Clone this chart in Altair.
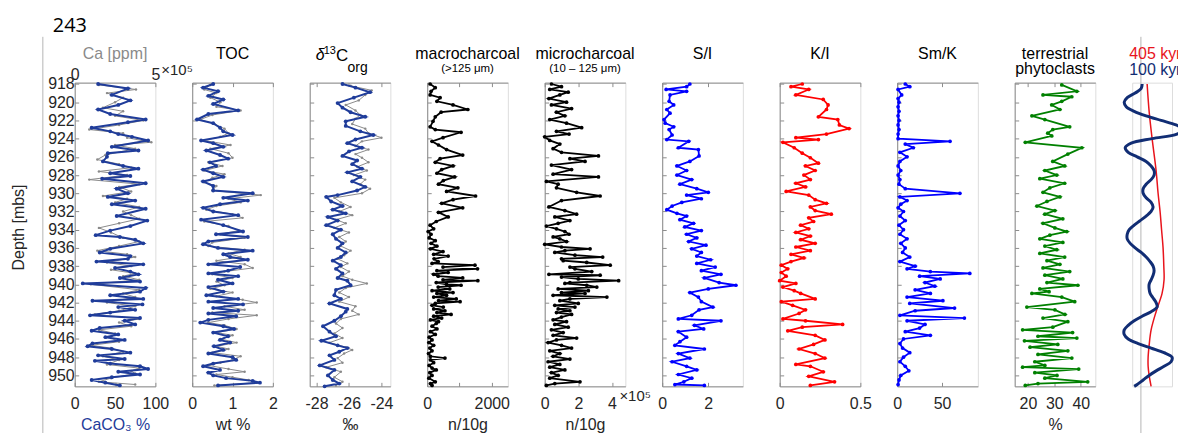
import altair as alt
import pandas as pd

# ---------------- data (depth [mbs], value) ----------------
CACO3 = [(918.0,29),(918.5,66),(919.2,46),(919.8,69),(920.3,54),(920.8,29),(921.3,44),(921.9,88),(922.2,66),(922.8,21),
         (923.2,44),(923.5,54),(923.8,71),(924.2,91),(924.9,46),(925.3,79),(925.6,41),(926.0,40),(926.5,35),(927.0,60),
         (927.3,79),(927.8,44),(928.1,69),(928.4,34),(928.9,88),(929.5,52),(930.0,66),(930.4,41),(930.8,75),(931.2,46),
         (931.7,88),(932.5,52),(933.0,90),(933.6,69),(934.1,44),(934.6,26),(934.8,56),(935.1,75),(935.5,85),(936.1,44),
         (936.5,31),(936.9,69),(937.2,66),(937.5,27),(937.8,85),(938.2,50),(938.6,69),(938.9,79),(939.3,56),(939.7,81),
         (939.9,10),(940.4,88),(940.8,81),(941.2,44),(941.6,85),(941.8,22),(942.2,84),(942.5,54),(942.8,75),(943.1,44),
         (943.4,19),(943.7,81),(944.0,62),(944.4,75),(944.8,31),(945.1,21),(945.5,54),(945.8,38),(946.1,62),(946.5,22),
         (946.8,16),(947.1,46),(947.5,69),(947.8,29),(948.2,62),(948.4,25),(948.7,44),(949.0,81),(949.3,91),(949.6,54),
         (949.9,81),(950.2,46),(950.5,21),(950.8,38),(951.1,56)]
CA_PPM = [(918.1,150000),(918.6,380000),(919.0,200000),(919.5,300000),(920.0,250000),(920.6,175000),(921.0,300000),
          (921.5,250000),(922.0,425000),(922.5,275000),(923.0,90000),(923.4,300000),(923.9,325000),(924.4,475000),
          (924.7,250000),(925.1,375000),(925.8,190000),(926.3,140000),(926.8,275000),(927.2,350000),(927.6,150000),
          (928.0,325000),(928.5,90000),(929.0,400000),(929.3,275000),(929.8,350000),(930.3,175000),(930.6,325000),
          (931.0,250000),(931.5,400000),(932.0,300000),(932.4,350000),(932.8,400000),(933.3,275000),(933.8,150000),
          (934.3,225000),(934.9,300000),(935.3,400000),(935.8,275000),(936.3,140000),(936.7,325000),(937.0,375000),
          (937.6,200000),(938.0,350000),(938.4,225000),(938.8,375000),(939.1,300000),(939.5,400000),(940.0,100000),
          (940.6,400000),(941.0,300000),(941.4,375000),(942.0,200000),(942.4,375000),(942.9,275000),(943.3,125000),
          (943.8,400000),(944.2,275000),(944.6,350000),(945.0,150000),(945.4,250000),(945.9,225000),(946.3,275000),
          (946.7,100000),(947.0,225000),(947.4,300000),(947.9,175000),(948.3,275000),(948.8,200000),(949.2,400000),
          (949.5,350000),(949.8,375000),(950.3,225000),(950.7,150000),(951.0,375000)]
TOC_BLUE = [(918.0,0.52),(918.4,0.27),(918.8,0.64),(919.3,0.40),(919.7,0.77),(920.2,0.52),(920.9,1.14),(921.3,0.40),
            (921.9,0.12),(922.3,0.52),(922.8,0.69),(923.2,0.77),(923.6,1.0),(924.2,0.22),(924.5,0.52),(924.9,0.77),
            (925.3,0.35),(925.8,0.69),(926.2,0.89),(926.6,0.44),(927.0,0.59),(927.4,0.27),(927.8,0.52),(928.2,0.77),
            (928.7,0.27),(929.2,0.52),(929.7,0.52),(930.0,1.5),(930.5,0.77),(930.8,1.38),(931.2,0.69),(931.6,0.27),
            (932.0,0.52),(932.4,1.14),(932.9,0.22),(933.5,0.77),(934.2,1.26),(934.5,0.59),(934.8,1.38),(935.3,0.40),
            (935.6,0.27),(936.0,0.64),(936.3,1.5),(936.7,0.77),(937.0,0.94),(937.3,1.38),(937.8,0.40),(938.1,1.19),
            (938.5,0.89),(938.8,0.40),(939.1,1.14),(939.5,0.64),(939.9,1.0),(940.3,0.40),(940.8,0.77),(941.2,0.35),
            (941.6,1.14),(941.9,0.40),(942.2,1.26),(942.6,0.52),(942.9,1.14),(943.2,0.40),(943.5,1.09),(943.9,0.40),
            (944.2,0.20),(944.6,0.77),(944.9,1.04),(945.3,0.52),(945.7,0.89),(946.1,0.69),(946.4,0.94),(946.8,0.54),
            (947.2,0.77),(947.6,0.40),(948.0,1.0),(948.3,1.09),(948.7,0.52),(949.0,0.27),(949.4,0.69),(949.7,0.40),
            (950.0,0.52),(950.3,0.84),(950.6,1.5),(950.8,1.68),(951.1,0.64)]
TOC_GRAY = [(918.1,0.45),(918.6,0.3),(919.0,0.6),(919.5,0.45),(920.0,0.7),(920.5,0.6),(920.9,1.2),(921.4,0.5),
            (921.9,0.2),(922.4,0.55),(922.9,0.8),(923.4,0.9),(923.8,0.7),(924.2,0.3),(924.7,0.95),(925.1,0.45),
            (925.6,0.9),(926.1,1.0),(926.6,0.4),(927.0,0.75),(927.5,0.3),(927.9,0.8),(928.3,0.5),(928.8,0.3),
            (929.2,0.6),(929.7,0.5),(930.2,1.7),(930.6,0.9),(931.0,1.2),(931.4,0.6),(931.8,0.35),(932.3,1.0),
            (932.7,1.25),(933.1,0.3),(933.6,0.9),(934.1,1.15),(934.5,0.7),(934.9,1.3),(935.4,0.5),(935.8,0.4),
            (936.2,1.3),(936.6,0.9),(937.0,1.2),(937.4,0.6),(937.8,1.3),(938.2,1.5),(938.6,0.8),(938.9,0.5),
            (939.3,1.0),(939.7,0.6),(940.1,0.8),(940.5,0.45),(940.9,1.0),(941.3,0.6),(941.7,1.25),(942.0,1.6),
            (942.4,0.8),(942.8,1.3),(943.1,0.5),(943.4,1.6),(943.8,0.9),(944.2,0.4),(944.5,0.8),(944.9,1.1),
            (945.3,0.6),(945.6,1.0),(946.0,0.7),(946.4,1.1),(946.8,0.6),(947.1,0.9),(947.5,0.5),(947.9,1.2),
            (948.3,1.0),(948.6,0.7),(948.9,0.4),(949.3,0.9),(949.6,1.3),(949.9,0.6),(950.2,1.0),(950.5,1.4),
            (950.8,1.6),(951.1,0.55)]
D13C_BLUE = [(918.0,-26.4),(918.4,-25.6),(918.9,-24.7),(919.5,-25.7),(920.1,-26.7),(920.6,-26.4),(921.1,-25.9),
             (921.6,-25.0),(922.1,-26.2),(922.6,-26.2),(923.2,-25.3),(923.6,-24.5),(924.1,-25.6),(924.5,-26.1),
             (925.0,-25.2),(925.4,-26.0),(925.9,-26.4),(926.4,-25.5),(926.8,-25.8),(927.3,-25.2),(927.7,-26.1),
             (928.2,-25.3),(928.7,-25.8),(929.3,-25.0),(929.7,-25.5),(930.2,-26.7),(930.4,-27.4),(930.9,-27.1),
             (931.4,-26.4),(931.8,-27.0),(932.2,-26.2),(932.6,-27.3),(933.0,-26.7),(933.5,-27.4),(934.0,-26.5),
             (934.5,-27.0),(935.0,-26.8),(935.5,-26.4),(936.0,-26.7),(936.5,-26.2),(937.0,-26.5),(937.4,-27.0),
             (937.9,-26.5),(938.3,-26.8),(938.8,-26.4),(939.3,-26.7),(939.6,-26.1),(940.1,-25.9),(940.6,-26.8),
             (941.2,-26.9),(941.6,-26.5),(942.1,-27.2),(942.7,-26.1),(943.0,-26.2),(943.5,-26.5),(944.0,-26.9),
             (944.6,-27.6),(945.2,-27.2),(945.7,-26.8),(946.2,-27.7),(946.7,-26.7),(947.0,-26.1),(947.4,-26.6),
             (947.8,-27.2),(948.3,-26.9),(948.9,-27.8),(949.4,-26.9),(950.0,-27.3),(950.5,-27.0),(950.9,-26.6),
             (951.2,-27.5)]
D13C_GRAY = [(918.2,-25.9),(918.7,-24.6),(919.2,-25.0),(919.8,-25.4),(920.3,-26.2),(920.9,-25.6),(921.4,-25.3),
             (921.8,-25.6),(922.4,-25.8),(922.9,-25.0),(923.4,-24.8),(923.9,-24.0),(924.3,-25.2),(924.8,-25.6),
             (925.2,-24.8),(925.7,-25.6),(926.1,-25.2),(926.6,-24.8),(927.1,-25.5),(927.5,-24.9),(928.0,-25.7),
             (928.5,-25.0),(929.0,-25.3),(929.5,-24.7),(930.0,-25.2),(930.5,-26.9),(931.0,-26.5),(931.5,-25.9),
             (932.0,-26.6),(932.4,-25.8),(932.9,-26.8),(933.3,-26.2),(933.8,-26.9),(934.3,-26.0),(934.8,-26.6),
             (935.3,-26.2),(935.8,-26.5),(936.3,-25.9),(936.8,-26.3),(937.2,-26.7),(937.7,-26.1),(938.1,-26.5),
             (938.6,-26.0),(939.1,-26.4),(939.5,-25.8),(939.9,-24.9),(940.4,-26.2),(940.9,-26.6),(941.4,-26.0),
             (941.9,-26.6),(942.4,-25.6),(942.9,-25.8),(943.3,-25.4),(943.8,-26.5),(944.3,-26.8),(944.8,-26.4),
             (945.4,-26.9),(945.9,-26.4),(946.4,-27.2),(946.9,-26.2),(947.2,-25.8),(947.6,-26.3),(948.1,-26.7),
             (948.6,-26.4),(949.1,-27.4),(949.6,-26.5),(950.2,-26.9),(950.7,-26.4),(951.1,-26.8)]
MACRO = [(918.0,90),(918.4,250),(918.8,120),(919.2,90),(919.5,400),(919.9,300),(920.3,800),(920.8,1260),(921.1,430),
         (921.6,250),(922.1,180),(922.7,90),(923.0,250),(923.3,1050),(923.9,490),(924.3,150),(924.7,350),(925.2,600),
         (925.8,1100),(926.2,400),(926.6,250),(927.0,800),(927.4,450),(927.8,300),(928.2,850),(928.6,500),(929.0,350),
         (929.4,950),(929.8,600),(930.3,1500),(930.7,800),(931.1,450),(931.6,1100),(932.1,350),(932.6,650),(933.1,280),
         (933.5,90),(933.9,200),(934.2,30),(934.5,120),(934.9,60),(935.2,250),(935.5,120),(935.8,300),(936.1,100),
         (936.4,490),(936.7,200),(936.9,650),(937.2,215),(937.5,340),(937.7,150),(937.9,1480),(938.1,490),(938.3,1560),
         (938.5,300),(938.7,650),(938.9,200),(939.1,340),(939.3,1100),(939.5,490),(939.6,1570),(939.8,280),(940.0,600),
         (940.1,1050),(940.3,340),(940.5,700),(940.7,150),(940.9,800),(941.0,300),(941.2,600),(941.4,200),(941.6,900),
         (941.8,350),(941.9,1020),(942.1,250),(942.3,150),(942.5,500),(942.7,200),(942.9,550),(943.1,300),(943.3,740),
         (943.5,200),(943.7,450),(943.9,100),(944.1,350),(944.3,280),(944.6,150),(944.9,300),(945.2,100),(945.5,250),
         (945.8,60),(946.1,150),(946.4,50),(946.7,200),(947.0,80),(947.3,150),(947.6,40),(947.9,100),(948.1,550),
         (948.3,100),(948.6,200),(948.9,60),(949.2,150),(949.4,280),(949.7,80),(950.0,150),(950.3,50),(950.7,250),
         (950.9,100),(951.1,150)]
MICRO_E5 = [(918.0,0.4),(918.3,1.0),(918.6,0.3),(918.9,1.4),(919.2,0.9),(919.6,0.25),(920.0,1.3),(920.3,0.4),
            (920.7,1.6),(921.1,0.7),(921.5,1.2),(921.9,0.3),(922.3,1.3),(922.8,2.2),(923.2,0.7),(923.5,1.45),
            (923.8,0.0),(924.2,0.3),(924.6,0.9),(925.1,0.5),(925.5,1.0),(925.9,3.2),(926.2,1.5),(926.5,2.4),
            (926.9,0.4),(927.4,1.6),(927.9,0.5),(928.2,3.2),(928.7,0.1),(929.0,0.8),(929.4,0.7),(929.9,1.9),
            (930.3,3.3),(930.8,1.0),(931.5,0.25),(931.9,1.2),(932.3,1.9),(932.6,0.6),(933.0,1.5),(933.3,0.8),
            (933.6,0.1),(933.9,0.7),(934.2,1.2),(934.5,1.45),(934.8,0.5),(935.0,0.9),(935.3,1.3),(935.6,0.0),
            (935.9,1.0),(936.1,2.7),(936.3,1.2),(936.5,0.6),(936.8,1.8),(937.0,3.45),(937.2,1.0),(937.4,1.1),
            (937.6,2.5),(937.9,3.9),(938.1,1.5),(938.3,1.8),(938.6,2.8),(938.9,0.25),(939.0,3.3),(939.2,1.0),
            (939.4,2.0),(939.6,4.4),(939.8,1.5),(939.9,1.2),(940.1,2.5),(940.3,3.1),(940.5,0.8),(940.7,2.6),
            (940.9,1.0),(941.0,2.4),(941.2,0.5),(941.4,3.7),(941.6,1.5),(941.8,0.9),(942.1,2.0),(942.3,0.6),
            (942.5,1.8),(942.7,0.8),(942.9,1.5),(943.1,0.7),(943.3,1.6),(943.6,1.0),(943.9,0.5),(944.1,1.3),
            (944.4,0.6),(944.7,1.4),(945.0,0.4),(945.3,1.1),(945.6,0.5),(945.9,1.9),(946.1,0.7),(946.4,0.2),
            (946.7,1.0),(947.0,1.6),(947.3,0.3),(947.6,0.9),(947.9,0.5),(948.2,1.5),(948.5,0.2),(948.8,0.9),
            (949.1,0.3),(949.4,1.2),(949.7,0.4),(950.0,0.8),(950.3,0.3),(950.7,2.1),(950.9,0.6),(951.1,0.1)]
SI = [(918.0,1.2),(918.3,1.06),(918.6,0.17),(918.8,1.06),(919.2,0.34),(919.9,0.3),(920.3,0.5),(920.8,0.2),
      (921.2,0.34),(921.9,0.08),(922.3,0.13),(922.7,0.5),(923.0,0.3),(923.6,0.43),(924.1,0.2),(924.3,1.15),
      (925.0,0.7),(925.2,1.57),(925.9,1.6),(926.5,1.2),(927.0,0.64),(927.5,1.06),(928.0,0.64),(928.5,1.28),
      (929.0,0.77),(929.5,1.5),(929.9,2.0),(930.2,1.06),(930.6,1.7),(931.0,0.85),(931.4,0.43),(931.8,0.2),
      (932.2,0.64),(932.5,1.06),(932.9,0.77),(933.3,1.36),(933.7,0.98),(934.1,1.7),(934.5,1.06),(934.9,1.5),
      (935.3,1.15),(935.7,1.9),(936.1,1.28),(936.5,1.7),(936.9,1.5),(937.3,2.1),(937.7,1.5),(938.1,2.3),
      (938.5,1.7),(938.9,2.55),(939.3,1.83),(939.8,2.47),(940.1,3.2),(940.5,2.0),(940.9,1.2),(941.4,1.57),
      (941.9,1.7),(942.5,2.2),(942.8,1.6),(943.4,1.28),(943.8,0.7),(944.0,2.55),(944.5,1.4),(944.9,1.8),
      (945.2,0.7),(945.8,1.06),(946.3,0.77),(946.7,0.55),(947.1,1.83),(947.6,0.7),(948.1,1.2),(948.5,0.43),
      (949.0,1.06),(949.4,1.5),(949.9,0.7),(950.3,1.28),(950.7,0.94),(951.0,0.55),(951.1,1.83)]
KI = [(918.0,0.14),(918.3,0.07),(918.6,0.18),(919.2,0.10),(919.7,0.27),(920.3,0.30),(920.8,0.29),(921.6,0.24),
      (921.9,0.36),(922.5,0.37),(922.9,0.43),(923.5,0.29),(923.9,0.10),(924.1,0.24),(924.4,0.02),(925.0,0.09),
      (925.6,0.14),(926.1,0.19),(926.7,0.24),(927.0,0.16),(927.5,0.22),(928.0,0.15),(928.5,0.19),(928.9,0.10),
      (929.3,0.16),(929.8,0.04),(930.2,0.18),(930.7,0.22),(931.1,0.29),(931.5,0.19),(931.9,0.22),(932.3,0.32),
      (932.7,0.18),(933.1,0.21),(933.5,0.13),(933.9,0.18),(934.3,0.10),(934.7,0.19),(935.1,0.13),(935.5,0.22),
      (935.9,0.10),(936.3,0.19),(936.7,0.07),(937.1,0.15),(937.5,0.07),(937.9,0.01),(938.3,0.05),(938.7,0.01),
      (939.1,0.04),(939.6,0.0),(939.9,0.10),(940.3,0.02),(940.7,0.09),(941.0,0.13),(941.6,0.22),(941.9,0.01),
      (942.3,0.08),(942.8,0.16),(943.2,0.12),(943.8,0.02),(944.0,0.16),(944.4,0.39),(944.7,0.14),(945.1,0.05),
      (945.6,0.22),(946.1,0.28),(946.6,0.21),(947.1,0.12),(947.6,0.22),(948.1,0.28),(948.8,0.10),(949.0,0.19),
      (949.6,0.27),(950.1,0.18),(950.7,0.34),(951.1,0.19)]
SMK = [(918.0,9),(918.3,14),(918.6,1),(919.2,5),(919.6,1),(920.0,2),(920.5,1),(921.0,2),(921.5,1),(922.0,2),
       (922.5,1),(923.0,2),(923.5,1),(924.0,1),(924.3,59),(924.6,9),(925.0,18),(925.5,3),(926.0,11),(926.5,3),
       (927.0,1),(927.5,4),(928.0,1),(928.5,3),(929.0,2),(929.5,9),(930.0,70),(930.4,3),(930.8,11),(931.2,4),
       (931.6,1),(932.0,7),(932.5,3),(933.0,9),(933.5,2),(934.0,7),(934.5,3),(935.0,11),(935.5,4),(936.0,9),
       (936.5,6),(937.0,14),(937.5,3),(938.0,20),(938.3,11),(938.6,37),(938.8,81),(939.1,25),(939.4,48),(939.8,31),
       (940.2,42),(940.6,20),(941.0,37),(941.4,11),(941.8,51),(942.1,14),(942.6,64),(942.9,20),(943.4,3),(943.7,75),
       (944.0,11),(944.4,31),(944.8,25),(945.2,9),(945.6,37),(946.0,7),(946.5,3),(947.0,6),(947.5,14),(948.0,7),
       (948.5,3),(949.0,9),(949.5,13),(950.0,4),(950.5,2),(951.0,1)]
PHYTO = [(918.1,32.8),(918.8,38.5),(919.2,25.7),(919.4,36.6),(919.9,32.8),(920.3,29.0),(920.8,32.1),(921.5,21.5),
         (921.9,26.4),(922.7,35.8),(923.0,29.4),(923.4,27.5),(923.7,29.0),(924.4,19.0),(925.0,40.4),(925.7,35.1),
         (926.5,29.4),(927.0,33.9),(927.5,26.4),(928.0,30.9),(928.4,24.5),(928.9,33.9),(929.4,28.3),(929.9,25.7),
         (930.4,32.1),(930.9,27.2),(931.4,23.4),(931.9,30.2),(932.3,26.4),(932.8,33.2),(933.3,25.7),(933.8,30.2),
         (934.2,34.7),(934.6,28.3),(935.0,24.5),(935.4,33.2),(935.8,26.4),(936.2,30.9),(936.6,24.5),(937.0,33.9),
         (937.4,27.2),(937.8,32.1),(938.2,25.7),(938.6,35.8),(939.0,26.4),(939.4,33.2),(939.8,27.2),(940.1,38.9),
         (940.5,24.5),(940.8,28.0),(941.0,21.5),(941.4,32.8),(941.9,37.7),(942.5,19.6),(942.8,30.2),(943.3,34.0),
         (943.7,25.7),(944.1,35.1),(944.7,29.4),(945.0,18.0),(945.3,36.9),(945.7,23.8),(945.9,38.5),(946.2,18.7),
         (946.6,31.3),(946.9,20.8),(947.3,35.1),(947.7,23.8),(948.1,36.6),(948.5,22.6),(948.9,26.4),(949.1,18.0),
         (949.3,39.2),(949.7,22.6),(950.0,31.0),(950.3,26.4),(950.7,42.6),(950.9,23.8),(951.1,19.0)]
FILT_DEPTH = [918.0,918.5,919.0,919.5,920.0,920.5,921.0,921.5,922.0,922.5,923.0,
              923.5,924.0,924.5,925.0,925.5,926.0,926.5,927.0,927.5,928.0,
              928.5,929.0,929.5,930.0,930.5,931.0,931.5,932.0,932.5,933.0,
              933.5,934.0,934.5,935.0,935.5,936.0,936.5,937.0,937.5,938.0,
              938.5,939.0,939.5,940.0,940.5,941.0,941.5,942.0,942.5,943.0,
              943.5,944.0,944.5,945.0,945.5,946.0,946.5,947.0,947.5,948.0,
              948.5,949.0,949.5,950.0,950.5,951.0,951.2]
F100 = [0.05,0.01,-0.23,-0.55,-0.67,-0.59,-0.27,0.21,0.81,1.41,1.73,
        1.45,0.45,-0.39,-0.63,-0.51,-0.15,0.21,0.41,0.53,0.53,
        0.41,0.21,0.09,0.09,0.21,0.41,0.49,0.41,0.21,-0.03,
        -0.27,-0.47,-0.55,-0.55,-0.43,-0.23,0.01,0.21,0.37,0.49,
        0.53,0.49,0.41,0.33,0.33,0.37,0.49,0.61,0.65,0.41,
        0.05,-0.27,-0.51,-0.67,-0.67,-0.51,-0.11,0.41,0.93,1.25,
        1.21,0.93,0.61,0.33,0.09,-0.15,-0.27]
F405 = [(918.0,0.25),(921.0,0.33),(924.0,0.45),(927.5,0.61),(930.0,0.69),(932.0,0.77),(934.0,0.83),(936.0,0.89),
        (938.0,0.92),(939.5,0.93),(941.0,0.85),(943.0,0.61),(945.0,0.41),(946.7,0.33),(948.0,0.29),(949.0,0.29),
        (950.0,0.33),(951.2,0.41)]

# ---------------- styling ----------------
W, H = 81, 305
YDOM = [917.85, 951.2]
YTICKS = list(range(918, 951, 2))
FONT = "Liberation Sans"
AX = "#8c8c8c"
LAB = "#262626"
NAVY = "#1f3c9a"
GRAY = "#8a8a8a"
ONE = pd.DataFrame({"a": [0]})

YS = alt.Scale(domain=YDOM, reverse=True, nice=False, zero=False)


def xsc(dom):
    return alt.Scale(domain=dom, nice=False, zero=False)


def ax(**kw):
    d = dict(grid=False, domainColor=AX, tickColor=AX, domainWidth=1, tickWidth=1, labelColor=LAB,
             labelFont=FONT, labelFontSize=16, labelFlush=False, labelOverlap=False, titleFont=FONT,
             titleFontSize=16, titleFontWeight="normal", titleColor=LAB)
    d.update(kw)
    return alt.Axis(**d)


def frame(pairs):
    return pd.DataFrame(pairs, columns=["d", "v"])


def axis_layers(df, dom, ticks, ylabels=False, xtitle=None, xtitle_color=LAB,
                label_expr="'' + datum.value", top=None):
    inv = alt.Chart(df).mark_point(opacity=0, size=1)
    xs = xsc(dom)
    xkw = dict(orient="bottom", values=ticks, ticks=False, tickSize=0, labelPadding=9, labelExpr=label_expr)
    if xtitle:
        xkw.update(title=xtitle, titleColor=xtitle_color, titlePadding=5)
    else:
        xkw.update(title=None)
    if ylabels:
        ykw = dict(orient="left", values=YTICKS, ticks=False, tickSize=0, labelPadding=0.5,
                   labelExpr="'' + datum.value", title="Depth [mbs]", titlePadding=21.5, titleY=145)
    else:
        ykw = dict(orient="left", values=YTICKS, ticks=False, tickSize=0, labels=False, title=None)
    l1 = inv.encode(x=alt.X("v:Q", scale=xs, axis=ax(**xkw)), y=alt.Y("d:Q", scale=YS, axis=ax(**ykw)))
    l2 = inv.encode(
        x=alt.X("v:Q", scale=xs, axis=ax(orient="top", offset=-H, values=ticks, domain=False, tickSize=4,
                                         labels=False, title=None)),
        y=alt.Y("d:Q", scale=YS, axis=ax(orient="right", offset=-W, values=YTICKS, domain=False, tickSize=4,
                                         labels=False, title=None)))
    if top is None:
        tdf, tdom, tticks = df, dom, ticks
    else:
        tdf, tdom, tticks = top
    tinv = alt.Chart(tdf).mark_point(opacity=0, size=1)
    l3 = tinv.encode(
        x=alt.X("v:Q", scale=xsc(tdom), axis=ax(orient="bottom", offset=-H, values=tticks, tickSize=4,
                                                labels=False, title=None)),
        y=alt.Y("d:Q", scale=YS, axis=None))
    out = [l1, l2, l3]
    if top is not None:
        l4 = tinv.encode(
            x=alt.X("v:Q", scale=xsc(tdom), axis=ax(orient="top", values=tticks, ticks=False, tickSize=0,
                                                    domain=False, labelPadding=0,
                                                    labelExpr="datum.value == 0 ? '0' : '5'", title=None)),
            y=alt.Y("d:Q", scale=YS, axis=None))
        out.append(l4)
    return out


def series(df, dom, color, lw, psize):
    xs = xsc(dom)
    enc = dict(x=alt.X("v:Q", scale=xs, axis=None), y=alt.Y("d:Q", scale=YS, axis=None))
    line = alt.Chart(df).mark_line(color=color, strokeWidth=lw).encode(order=alt.Order("d:Q"), **enc)
    pts = alt.Chart(df).mark_circle(color=color, size=psize, opacity=1).encode(**enc)
    return [line, pts]


def txt(text, x, y, size=16, color="#000000", align="center", font=FONT, style="normal"):
    return alt.Chart(ONE).mark_text(text=text, fontSize=size, color=color, align=align, baseline="alphabetic",
                                    font=font, fontStyle=style).encode(x=alt.value(x), y=alt.value(y))


def panel(layers, independent=False):
    ch = alt.layer(*layers).resolve_axis(x="independent", y="independent")
    if independent:
        ch = ch.resolve_scale(x="independent")
    return ch.properties(width=W, height=H)


TY = -24  # title baseline relative to plot top

# 1 CaCO3 / Ca
dca, dcaco3 = frame(CA_PPM), frame(CACO3)
CA_DOM, CC_DOM = [0, 500000], [0, 100]
p1 = panel(
    axis_layers(dcaco3, CC_DOM, [0, 50, 100], ylabels=True, xtitle="CaCO\u2083  %", xtitle_color=NAVY,
                top=(dca, CA_DOM, [0, 500000]))
    + series(dca, CA_DOM, GRAY, 1, 6)
    + series(dcaco3, CC_DOM, NAVY, 2, 15)
    + [txt("Ca [ppm]", W / 2, TY, color=GRAY),
       txt("\u00d710\u2075", 87, -8, size=15, color=LAB, align="left"),
       txt("243", -22, -50.5, size=20, font="Open Sans", align="left"),
       alt.Chart(ONE).mark_rule(color="#b4b4b4", strokeWidth=1).encode(
           x=alt.value(-32), y=alt.value(-46), y2=alt.value(370))],
    independent=True)

# 2 TOC
TOC_DOM = [0, 2]
dtb, dtg = frame(TOC_BLUE), frame(TOC_GRAY)
p2 = panel(axis_layers(dtb, TOC_DOM, [0, 1, 2], xtitle="wt %")
           + series(dtg, TOC_DOM, GRAY, 1, 6) + series(dtb, TOC_DOM, NAVY, 2, 15)
           + [txt("TOC", W / 2, TY)])

# 3 d13C
DC_DOM = [-28.42, -23.45]
ddb, ddg = frame(D13C_BLUE), frame(D13C_GRAY)
p3 = panel(axis_layers(ddb, DC_DOM, [-28, -26, -24], xtitle="\u2030")
           + series(ddg, DC_DOM, GRAY, 1, 6) + series(ddb, DC_DOM, NAVY, 2, 15)
           + [txt("\u03b4", 6, -22.5, size=16, align="left", style="italic"),
              txt("13", 14, -29, size=11, align="left"),
              txt("C", 26.5, -21.5, size=17, align="left"),
              txt("org", 38, -11, size=14, align="left")])

# 4 macrocharcoal
MA_DOM = [0, 2500]
dma = frame(MACRO)
p4 = panel(axis_layers(dma, MA_DOM, [0, 1000, 2000], xtitle="n/10g",
                       label_expr="datum.value == 1000 ? '' : '' + datum.value")
           + series(dma, MA_DOM, "#000000", 1.8, 14)
           + [txt("macrocharcoal", W / 2, TY), txt("(>125 \u03bcm)", W / 2, -11, size=11.5)])

# 5 microcharcoal
MI_DOM = [0, 4.8]
dmi = frame(MICRO_E5)
p5 = panel(axis_layers(dmi, MI_DOM, [0, 2, 4], xtitle="n/10g")
           + series(dmi, MI_DOM, "#000000", 1.8, 14)
           + [txt("microcharcoal", W / 2, TY), txt("(10 \u2013 125 \u03bcm)", W / 2, -11, size=11.5),
              txt("\u00d710\u2075", 75, H + 15, size=15, color=LAB, align="left")])

# 6 S/I
SI_DOM = [0, 3.5]
dsi = frame(SI)
p6 = panel(axis_layers(dsi, SI_DOM, [0, 2]) + series(dsi, SI_DOM, "#0000ff", 1.8, 14) + [txt("S/I", W / 2, TY)])

# 7 K/I
KI_DOM = [0, 0.5]
dki = frame(KI)
p7 = panel(axis_layers(dki, KI_DOM, [0, 0.5]) + series(dki, KI_DOM, "#ff0000", 1.8, 14) + [txt("K/I", W / 2, TY)])

# 8 Sm/K
SM_DOM = [0, 90]
dsm = frame(SMK)
p8 = panel(axis_layers(dsm, SM_DOM, [0, 50]) + series(dsm, SM_DOM, "#0000ff", 1.8, 14) + [txt("Sm/K", W / 2, TY)])

# 9 phytoclasts
PH_DOM = [15, 45.5]
dph = frame(PHYTO)
p9 = panel(axis_layers(dph, PH_DOM, [20, 30, 40], xtitle="%")
           + series(dph, PH_DOM, "#008000", 1.8, 14)
           + [txt("terrestrial", W / 2, TY), txt("phytoclasts", W / 2, -8.5)])

# 10 orbital filters
FW = 40
F_DOM = [-0.35, 1.25]
dfil = pd.DataFrame({"d": FILT_DEPTH, "v": F100})
d405 = frame(F405)
fxs = xsc(F_DOM)
fenc = dict(y=alt.Y("d:Q", scale=YS, axis=None))
p10 = alt.layer(
    alt.Chart(pd.DataFrame({"v": [0]})).mark_rule(color="#b4b4b4", strokeWidth=1).encode(
        x=alt.X("v:Q", scale=fxs, axis=None), y=alt.value(-46), y2=alt.value(370)),
    alt.Chart(d405).mark_line(color="#e8141c", strokeWidth=1.5, interpolate="catmull-rom").encode(
        x=alt.X("v:Q", scale=fxs, axis=None), order=alt.Order("d:Q"), **fenc),
    alt.Chart(dfil).mark_line(color="#112d74", strokeWidth=3, interpolate="catmull-rom").encode(
        x=alt.X("v:Q", scale=fxs, axis=None), order=alt.Order("d:Q"), **fenc),
    txt("405 kyr", -3, TY, color="#e8141c", align="left"),
    txt("100 kyr", -3, -8, color="#112d74", align="left"),
).properties(width=FW, height=H)

chart = alt.hconcat(p1, p2, p3, p4, p5, p6, p7, p8, p9, p10, spacing=37, bounds="flush",
                    padding={"left": 1, "top": 7, "right": -13, "bottom": 0}).resolve_scale(
    x="independent", y="independent").configure_view(strokeWidth=0).configure(font=FONT)

chart.save("out.html", embed_options={"renderer": "svg", "actions": False})
